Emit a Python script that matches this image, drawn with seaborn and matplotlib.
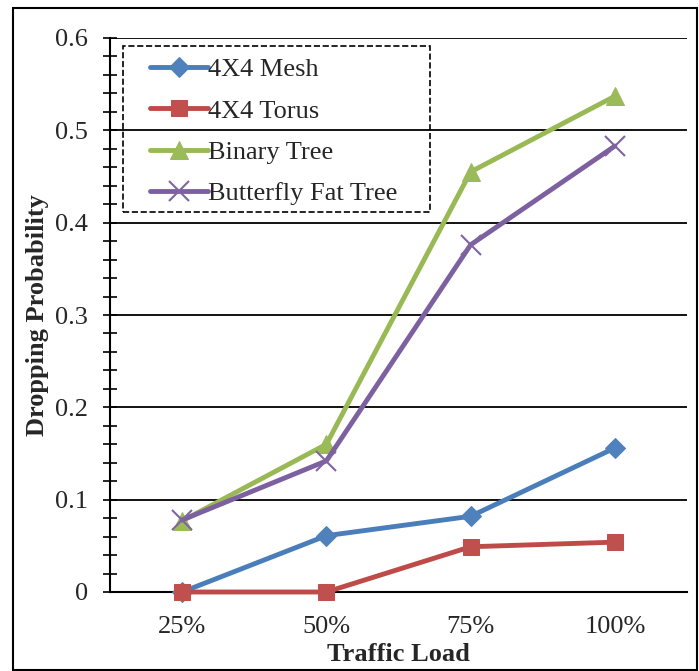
import matplotlib
matplotlib.use("Agg")
import matplotlib.pyplot as plt
import seaborn as sns
import pandas as pd
import numpy as np
from matplotlib.patches import Rectangle
from matplotlib.ticker import MultipleLocator, FixedLocator

categories = ["25%", "50%", "75%", "100%"]
mesh = [0.0, 0.061, 0.082, 0.156]
torus = [0.0, 0.0, 0.049, 0.054]
binary = [0.077, 0.160, 0.455, 0.537]
butterfly = [0.078, 0.142, 0.376, 0.483]
series_names = ["4X4 Mesh", "4X4 Torus", "Binary Tree", "Butterfly Fat Tree"]
yticks = [0, 0.1, 0.2, 0.3, 0.4, 0.5, 0.6]
yticklabels = ["0", "0.1", "0.2", "0.3", "0.4", "0.5", "0.6"]

sns.set_style("white")
plt.rcParams['font.family'] = ['Liberation Serif', 'DejaVu Serif']

W, H = 699, 671
fig = plt.figure(figsize=(W/100, H/100), dpi=100)
L, R, T, B = 110, 687, 38, 592
ax = fig.add_axes([L/W, 1-B/H, (R-L)/W, (B-T)/H])

styles = [
    dict(color="#4A7EBB", marker="D", markersize=10, mfc="#4F81BD", mec="#4F81BD"),
    dict(color="#BE4B48", marker="s", markersize=12, mfc="#C0504D", mec="#C0504D"),
    dict(color="#98B954", marker="^", markersize=13, mfc="#9BBB59", mec="#9BBB59"),
    dict(color="#7D60A0", marker="x", markersize=14, mfc="#8064A2", mec="#8064A2", mew=1.5),
]
xs = np.arange(len(categories))
for name, vals, st in zip(series_names, [mesh, torus, binary, butterfly], styles):
    df = pd.DataFrame({"x": xs, "y": vals})
    sns.lineplot(data=df, x="x", y="y", ax=ax, label=name, linewidth=3.5,
                 clip_on=False, zorder=4, **st)

ax.set_xlim(-0.5, 3.5)
ax.set_ylim(0, 0.6)
ax.set_yticks(yticks)
ax.set_yticklabels(yticklabels, fontsize=19)
ax.yaxis.set_minor_locator(MultipleLocator(0.02))
ax.set_xticks(xs)
ax.set_xticklabels(categories, fontsize=19)
ax.xaxis.set_minor_locator(FixedLocator([-0.5, 0.5, 1.5, 2.5, 3.5]))
ax.tick_params(axis='x', which='major', length=0, pad=17)
ax.tick_params(axis='x', which='minor', direction='out', length=7, width=1.2, color='black')
ax.tick_params(axis='y', which='both', direction='inout', length=10, width=1.2, color='black', left=True)
ax.tick_params(axis='y', which='major', pad=11)

ax.grid(axis='y', color='black', linewidth=1.3)
ax.set_axisbelow(True)
for s in ['top', 'right']:
    ax.spines[s].set_visible(False)
for s in ['left', 'bottom']:
    ax.spines[s].set_color('black')
    ax.spines[s].set_linewidth(1.5)

ax.set_xlabel("Traffic Load", fontsize=19, fontweight='bold', labelpad=4)
ax.set_ylabel("Dropping Probability", fontsize=19, fontweight='bold', labelpad=4)

def ax_frac(px, py):
    return ((px - L) / (R - L), (B - py) / (B - T))

leg = ax.legend(loc='upper left', bbox_to_anchor=ax_frac(150, 58),
                fontsize=19, frameon=False, handlelength=2.2,
                handletextpad=0.0, labelspacing=0.67, borderpad=0, borderaxespad=0)

x0, y0 = ax_frac(123, 212)
x1, y1 = ax_frac(430, 46)
ax.add_patch(Rectangle((x0, y0), x1 - x0, y1 - y0, transform=ax.transAxes,
                       fill=False, edgecolor='black', linestyle='--', linewidth=1.2,
                       zorder=5, clip_on=False))

fig.patches.append(Rectangle((13/W, 0.001), (697-13)/W, 1-8/H-0.001,
                             transform=fig.transFigure, fill=False,
                             edgecolor='black', linewidth=1.5))

fig.savefig("out.png", dpi=100)
